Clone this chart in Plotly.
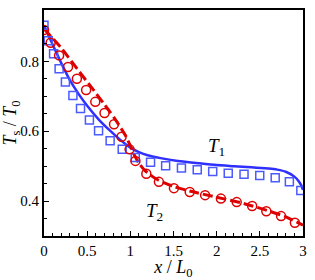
import plotly.graph_objects as go

# T1 simulation (solid line)
t1_line_x = [0, 0.1, 0.2, 0.3, 0.4, 0.5, 0.64, 0.75, 0.87, 1.0, 1.1, 1.2, 1.35, 1.55, 1.8, 2.0, 2.2, 2.4, 2.6, 2.7, 2.8, 2.9, 2.95, 2.98, 3.0]
t1_line_y = [0.903, 0.848, 0.795, 0.746, 0.707, 0.673, 0.632, 0.605, 0.578, 0.553, 0.540, 0.531, 0.523, 0.515, 0.508, 0.503, 0.500, 0.497, 0.493, 0.490, 0.484, 0.470, 0.457, 0.445, 0.432]

# T1 markers (squares)
t1_pts_x = [0.0, 0.049, 0.111, 0.175, 0.248, 0.335, 0.423, 0.526, 0.632, 0.766, 0.906, 1.057, 1.234, 1.409, 1.592, 1.775, 1.954, 2.134, 2.317, 2.499, 2.678, 2.842, 2.975]
t1_pts_y = [0.903, 0.859, 0.822, 0.779, 0.741, 0.702, 0.665, 0.632, 0.601, 0.573, 0.548, 0.525, 0.511, 0.501, 0.495, 0.490, 0.485, 0.480, 0.477, 0.473, 0.467, 0.455, 0.430]

# T2 simulation (dashed line)
t2_line_x = [0, 0.2, 0.41, 0.53, 0.75, 0.83, 0.95, 1.0, 1.05, 1.1, 1.17, 1.3, 1.5, 1.7, 2.0, 2.3, 2.6, 2.8, 3.0]
t2_line_y = [0.893, 0.838, 0.770, 0.732, 0.660, 0.632, 0.585, 0.558, 0.530, 0.508, 0.487, 0.463, 0.442, 0.428, 0.411, 0.394, 0.372, 0.355, 0.331]

# T2 markers (circles)
t2_pts_x = [0.0, 0.077, 0.175, 0.278, 0.381, 0.488, 0.594, 0.701, 0.811, 0.899, 0.991, 1.059, 1.185, 1.331, 1.505, 1.688, 1.866, 2.049, 2.232, 2.411, 2.575, 2.746, 2.906]
t2_pts_y = [0.890, 0.853, 0.817, 0.784, 0.750, 0.718, 0.684, 0.652, 0.620, 0.584, 0.548, 0.515, 0.478, 0.455, 0.437, 0.426, 0.417, 0.407, 0.397, 0.386, 0.371, 0.357, 0.338]

BLUE = "#2f2fff"
RED = "#dd0000"
FONT = "Liberation Serif, Times New Roman, DejaVu Serif, serif"

fig = go.Figure()
fig.add_trace(go.Scatter(x=t1_line_x, y=t1_line_y, mode="lines",
                         line=dict(color=BLUE, width=2.5, shape="spline", smoothing=0.6)))
fig.add_trace(go.Scatter(x=t2_line_x, y=t2_line_y, mode="lines",
                         line=dict(color=RED, width=3, dash="10px,4px", shape="spline", smoothing=0.6)))
fig.add_trace(go.Scatter(x=t1_pts_x, y=t1_pts_y, mode="markers",
                         marker=dict(symbol="square-open", size=8, color="#4a5aff", line=dict(width=1.5))))
fig.add_trace(go.Scatter(x=t2_pts_x, y=t2_pts_y, mode="markers",
                         marker=dict(symbol="circle-open", size=9, color=RED, line=dict(width=1.5))))

fig.add_annotation(x=2.0, y=0.554, text="<i>T</i><sub>1</sub>", showarrow=False,
                   font=dict(family=FONT, size=19, color="black"))
fig.add_annotation(x=1.28, y=0.37, text="<i>T</i><sub>2</sub>", showarrow=False,
                   font=dict(family=FONT, size=19, color="black"))

fig.update_layout(
    width=315, height=280,
    margin=dict(l=44, r=8, t=9, b=38, pad=0),
    paper_bgcolor="white", plot_bgcolor="white",
    showlegend=False,
    font=dict(family=FONT, size=15, color="black"),
    xaxis=dict(range=[0, 3], tickvals=[0, 0.5, 1, 1.5, 2, 2.5, 3], ticktext=["0", "0.5", "1", "1.5", "2", "2.5", "3"],
               ticks="inside", ticklen=5, tickwidth=1, tickcolor="black",
               minor=dict(dtick=0.1, ticks="inside", ticklen=3, tickcolor="black"),
               showline=True, linecolor="black", linewidth=2, mirror=True,
               showgrid=False, zeroline=False,
               title=dict(text="<i>x</i> / <i>L</i><sub>0</sub>", font=dict(size=18), standoff=0)),
    yaxis=dict(range=[0.3, 0.947], tickvals=[0.4, 0.6, 0.8], ticktext=["0.4", "0.6", "0.8"],
               ticks="inside", ticklen=5, tickwidth=1, tickcolor="black",
               minor=dict(dtick=0.05, ticks="inside", ticklen=3, tickcolor="black"),
               showline=True, linecolor="black", linewidth=2, mirror=True,
               showgrid=False, zeroline=False,
               title=dict(text="<i>T</i><sub>s</sub> / <i>T</i><sub>0</sub>", font=dict(size=18), standoff=0)),
)

fig.write_html("out.html", config={"displayModeBar": False},
               post_script="document.body.style.margin='0';document.body.style.padding='0';")
